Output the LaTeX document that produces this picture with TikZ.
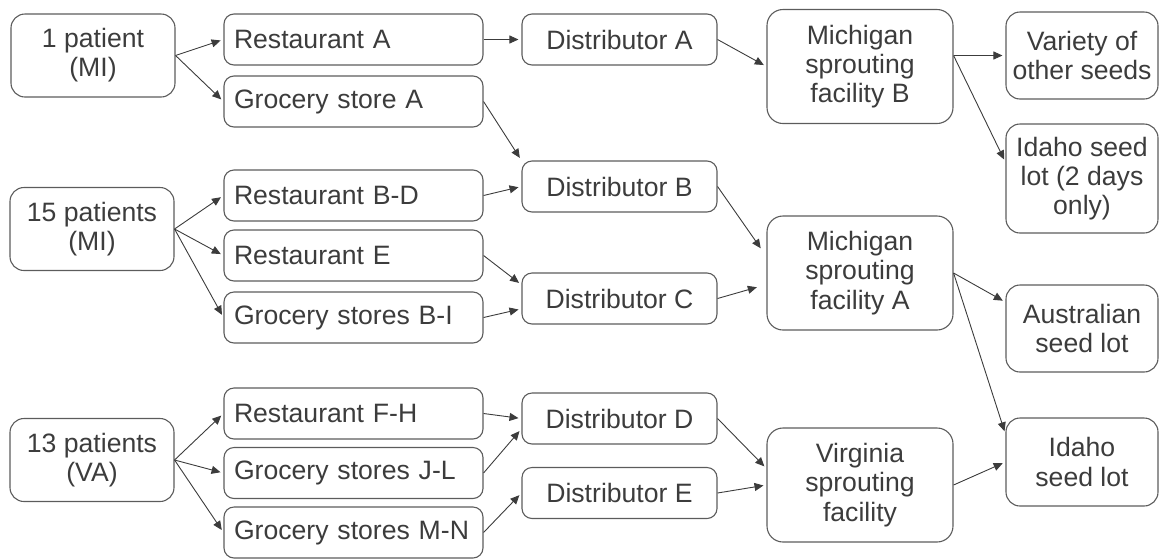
\documentclass[tikz,border=0pt]{standalone}
\usepackage{fontspec}
\setmainfont{Liberation Sans}
\usetikzlibrary{arrows.meta}
\definecolor{boxline}{HTML}{5C5C5C}
\definecolor{inkgray}{HTML}{3C3C3C}
\begin{document}
\begin{tikzpicture}[x=0.5pt, y=-0.5pt,
  every node/.style={font=\fontsize{13.3}{14.6}\selectfont, text=inkgray},
  box/.style={draw=boxline, line width=0.55pt, rounded corners=5pt, align=center, inner sep=2pt},
  shop/.style={box, minimum height=25.5pt, text width=119.5pt, inner xsep=5pt, align=left},
  dist/.style={box, minimum width=97.5pt, minimum height=25.5pt},
  site/.style={box, rounded corners=8pt, minimum width=93pt, minimum height=57pt},
  lot/.style={box, rounded corners=7pt, minimum width=76pt, minimum height=43.5pt},
  src/.style={box, rounded corners=7pt, minimum width=82pt, minimum height=41.5pt},
  flow/.style={-{Triangle[length=4.5pt,width=4pt]}, draw=inkgray, line width=0.45pt, shorten >=1.5pt}]
\useasboundingbox (0,0) rectangle (1161,558);
% patients
\node[src] (p1) at (93,55.5) {1 patient\\(MI)};
\node[src] (p15) at (92,229) {15 patients\\(MI)};
\node[src] (p13) at (92,460) {13 patients\\(VA)};
% restaurants and stores
\node[shop] (ra) at (353.5,39.5) {Restaurant A};
\node[shop] (ga) at (353.5,101.5) {Grocery store A};
\node[shop] (rbd) at (353.5,195.5) {Restaurant B-D};
\node[shop] (re) at (353.5,255.5) {Restaurant E};
\node[shop] (gbi) at (353.5,317.5) {Grocery stores B-I};
\node[shop] (rfh) at (353.5,413.5) {Restaurant F-H};
\node[shop] (gjl) at (353.5,473) {Grocery stores J-L};
\node[shop] (gmn) at (353.5,532.5) {Grocery stores M-N};
% distributors
\node[dist] (da) at (619.5,39.5) {Distributor A};
\node[dist] (db) at (619.5,186.5) {Distributor B};
\node[dist] (dc) at (619.5,298.5) {Distributor C};
\node[dist] (dd) at (619.5,418.5) {Distributor D};
\node[dist] (de) at (619.5,493) {Distributor E};
% sprouting facilities
\node[site] (mb) at (860,66.5) {Michigan\\sprouting\\facility B};
\node[site] (ma) at (860,273) {Michigan\\sprouting\\facility A};
\node[site] (vf) at (860,485) {Virginia\\sprouting\\facility};
% seed lots
\node[lot] (var) at (1082,55.5) {Variety of\\other seeds};
\node[lot, minimum height=54.5pt] (idb) at (1082,178.5) {Idaho seed\\lot (2 days\\only)};
\node[lot] (aus) at (1082,328.5) {Australian\\seed lot};
\node[lot, minimum height=44pt] (ida) at (1082,462) {Idaho\\seed lot};
\coordinate (mbout) at (var.west -| mb.east);
% connectors
\draw[flow] (p1.east) -- (ra.west);
\draw[flow] (p1.east) -- (ga.west);
\draw[flow] (ra) -- (da);
\draw[flow] (ga.east) -- (db.north west);
\draw[flow] (da.east) -- (mb.west);
\draw[flow] (mbout) -- (var.west);
\draw[flow] (mbout) -- (idb.168);
\draw[flow] (p15.east) -- (rbd.west);
\draw[flow] (p15.east) -- (re.west);
\draw[flow] (p15.east) -- (gbi.west);
\draw[flow] (rbd.east) -- (db.west);
\draw[flow] (re.east) -- (dc.172);
\draw[flow] (gbi.east) -- (dc.186);
\draw[flow, shorten >=5pt] (db.east) -- (ma.170);
\draw[flow, shorten >=5pt] (dc.east) -- (ma.187);
\draw[flow] (ma.east) -- (aus.161);
\draw[flow] (ma.east) -- (ida.160);
\draw[flow] (p13.east) -- (rfh.west);
\draw[flow] (p13.east) -- (gjl.west);
\draw[flow] (p13.east) -- (gmn.west);
\draw[flow] (rfh.east) -- (dd.west);
\draw[flow] (gjl.east) -- (dd.186);
\draw[flow] (gmn.east) -- (de.west);
\draw[flow] (dd.east) -- (vf.170);
\draw[flow] (de.east) -- (vf.west);
\draw[flow] (vf.east) -- (ida.west);
\end{tikzpicture}
\end{document}
